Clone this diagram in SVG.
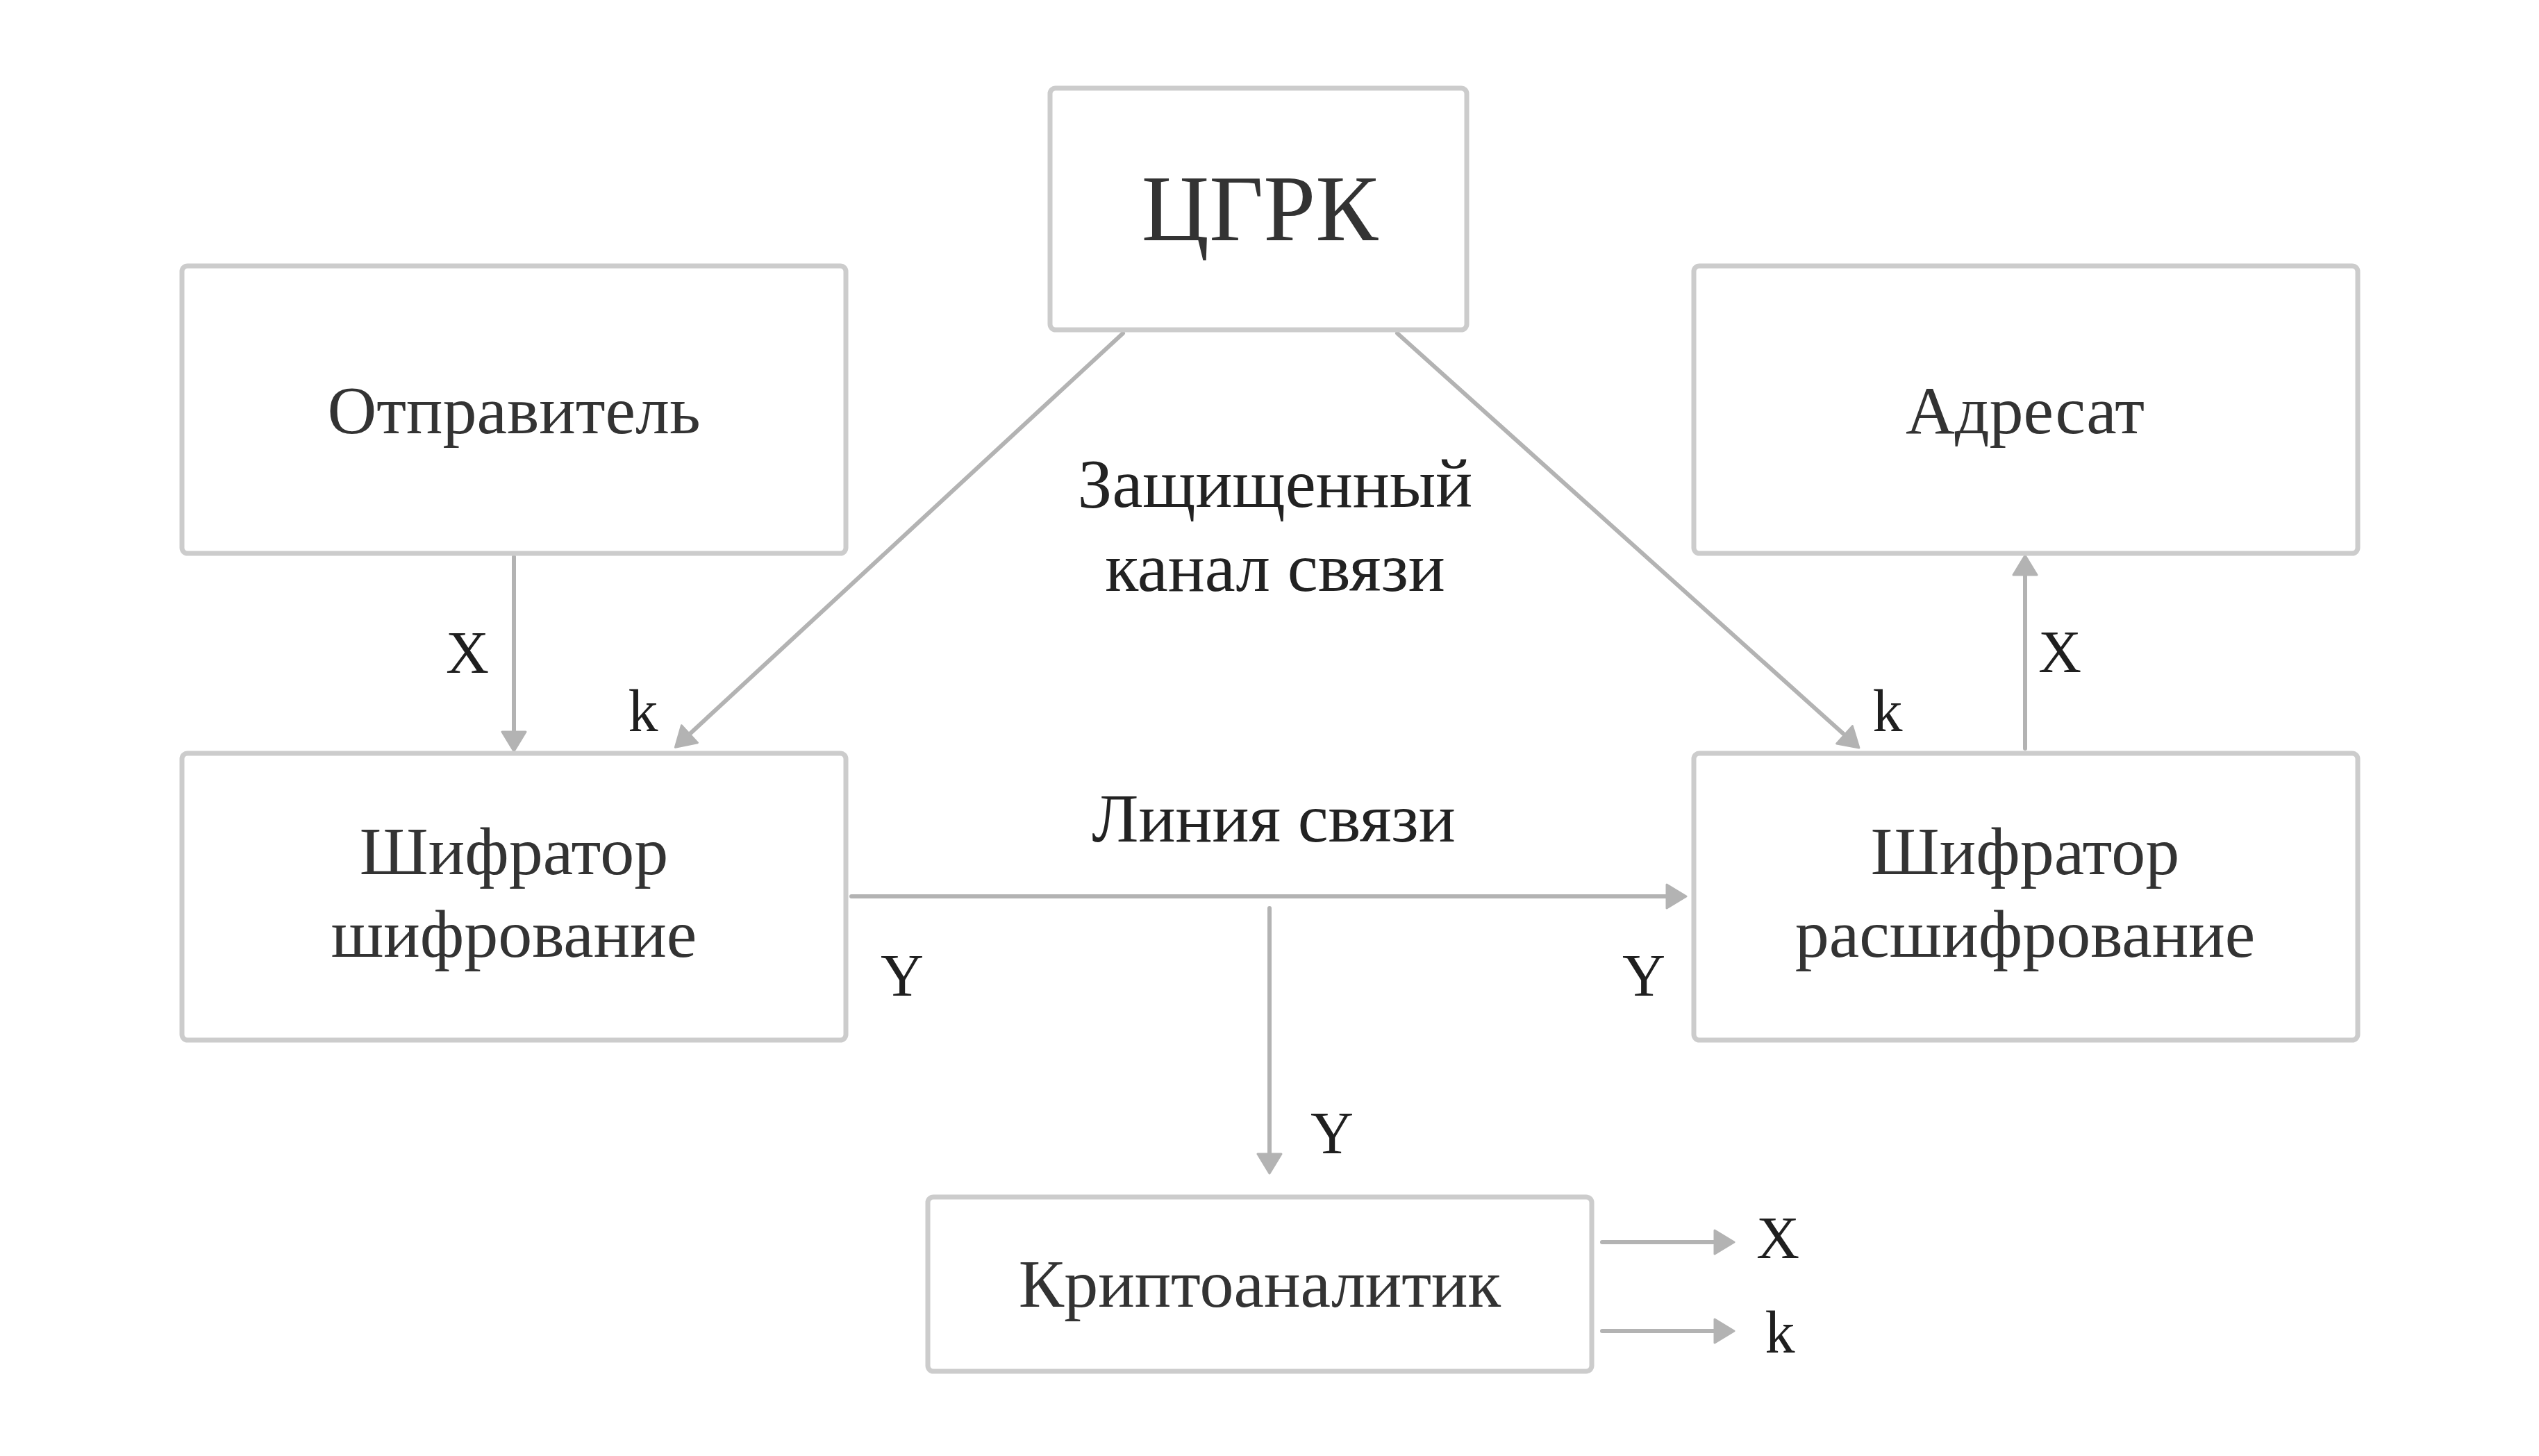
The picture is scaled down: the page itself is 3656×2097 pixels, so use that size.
<svg xmlns="http://www.w3.org/2000/svg" width="3656" height="2097" viewBox="0 0 3656 2097">
<defs>
<style>
.box{fill:#ffffff;stroke:#cccccc;stroke-width:7}
.conn{fill:none;stroke:#b3b3b3;stroke-width:6;stroke-linecap:round}
.nt{font-family:"Liberation Serif","DejaVu Serif",serif;font-size:98px;fill:#333333;text-anchor:middle}
.big{font-size:135px}
.lt{font-family:"Liberation Serif","DejaVu Serif",serif;font-size:99px;fill:#222222;text-anchor:middle}
.el{font-family:"Liberation Serif","DejaVu Serif",serif;font-size:86px;fill:#1f1f1f;text-anchor:middle}
</style>
<marker id="ah" markerUnits="userSpaceOnUse" markerWidth="34" markerHeight="38" refX="4" refY="17" orient="auto" viewBox="-2 -2 34 38">
<path d="M0,0 L28,17 L0,34 Z" fill="#b3b3b3" stroke="#b3b3b3" stroke-width="3" stroke-linejoin="round"/>
</marker>
</defs>
<rect width="3656" height="2097" fill="#ffffff"/>
<g id="connectors">
<line class="conn" x1="740" y1="802" x2="740" y2="1058" marker-end="url(#ah)"/>
<line class="conn" x1="1617" y1="480" x2="990" y2="1060" marker-end="url(#ah)"/>
<line class="conn" x1="2012" y1="480" x2="2659" y2="1061" marker-end="url(#ah)"/>
<line class="conn" x1="2916" y1="1078" x2="2916" y2="824" marker-end="url(#ah)"/>
<line class="conn" x1="1226" y1="1291" x2="2404" y2="1291" marker-end="url(#ah)"/>
<line class="conn" x1="1828" y1="1308" x2="1828" y2="1666" marker-end="url(#ah)"/>
<line class="conn" x1="2307" y1="1789" x2="2473" y2="1789" marker-end="url(#ah)"/>
<line class="conn" x1="2307" y1="1917" x2="2473" y2="1917" marker-end="url(#ah)"/>
<text class="el" x="673" y="969">X</text>
<text class="el" x="926" y="1053">k</text>
<text class="el" x="2718" y="1053">k</text>
<text class="el" x="2966" y="968">X</text>
<text class="el" x="1299" y="1434">Y</text>
<text class="el" x="2367" y="1434">Y</text>
<text class="el" x="1918" y="1661">Y</text>
<text class="el" x="2560" y="1812">X</text>
<text class="el" x="2563" y="1948">k</text>
<text class="lt" x="1836" y="730">Защищенный</text>
<text class="lt" x="1836" y="851">канал связи</text>
<text class="lt" x="1834" y="1212">Линия связи</text>
</g>
<g id="cgrk">
<rect class="box" x="1512" y="127" width="600" height="348" rx="8"/>
<text class="nt big" x="1814" y="346">ЦГРК</text>
</g>
<g id="sender">
<rect class="box" x="262" y="383" width="956" height="414" rx="8"/>
<text class="nt" x="740" y="624">Отправитель</text>
</g>
<g id="addressee">
<rect class="box" x="2439" y="383" width="956" height="414" rx="8"/>
<text class="nt" x="2916" y="624">Адресат</text>
</g>
<g id="encryptor">
<rect class="box" x="262" y="1085" width="956" height="413" rx="8"/>
<text class="nt" x="740" y="1259">Шифратор</text>
<text class="nt" x="740" y="1378">шифрование</text>
</g>
<g id="decryptor">
<rect class="box" x="2439" y="1085" width="956" height="413" rx="8"/>
<text class="nt" x="2916" y="1259">Шифратор</text>
<text class="nt" x="2916" y="1378">расшифрование</text>
</g>
<g id="cryptanalyst">
<rect class="box" x="1336" y="1724" width="956" height="251" rx="8"/>
<text class="nt" x="1814" y="1882">Криптоаналитик</text>
</g>
</svg>
